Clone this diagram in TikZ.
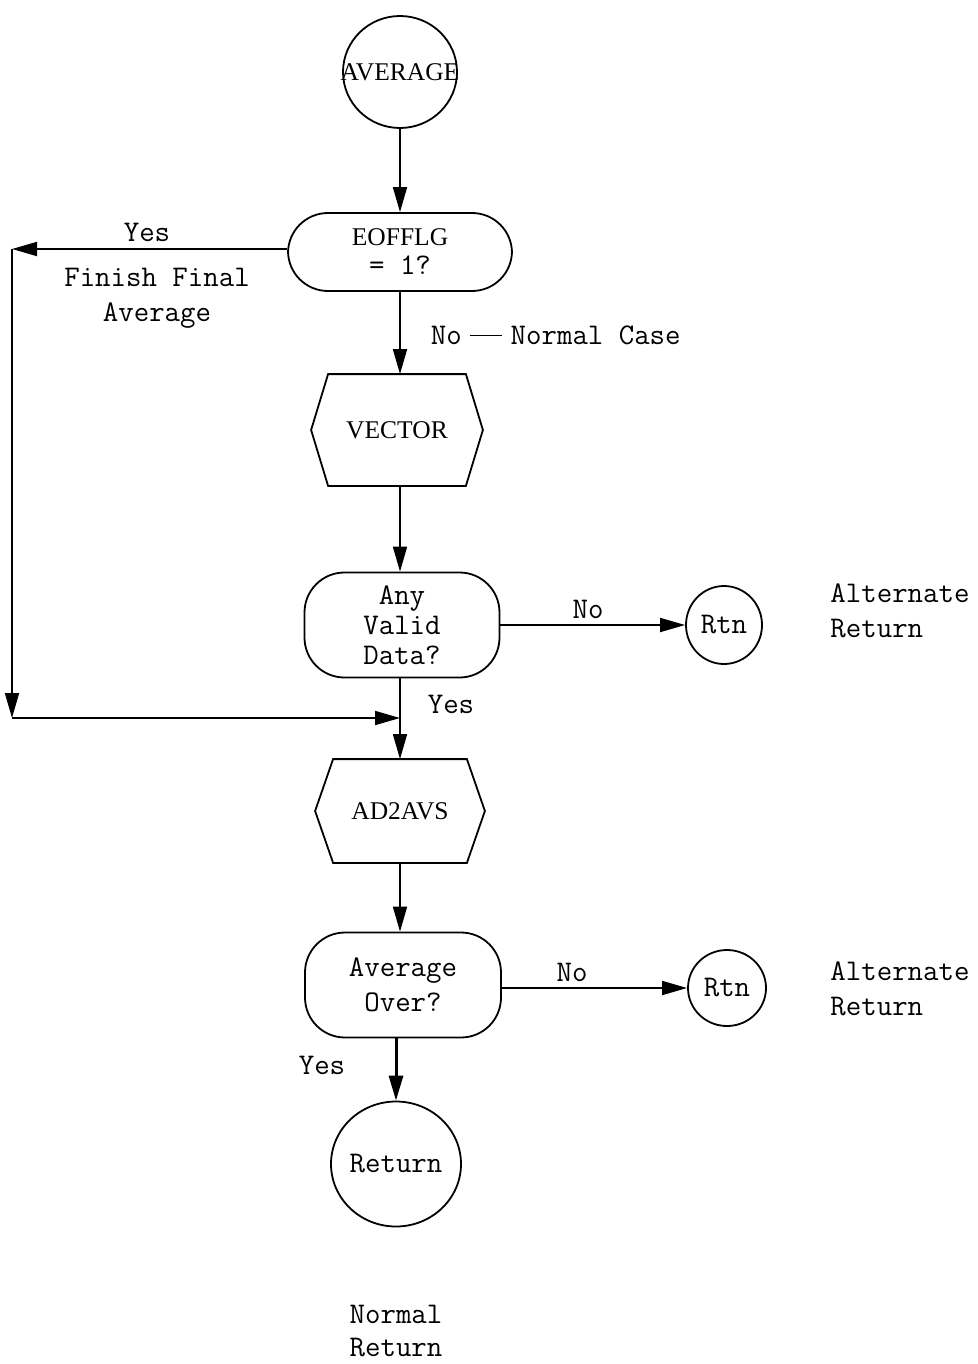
\documentclass[tikz,border=0pt]{standalone}
\usepackage{fontspec}
\newfontfamily\serifnode{Liberation Serif}
\usetikzlibrary{arrows.meta,shapes.geometric}
\begin{document}
\begin{tikzpicture}[x=1pt,y=-1pt,
  line width=1.8pt,
  arr/.style={-{Triangle[length=25pt,width=14pt]}},
  mono/.style={font=\fontsize{30}{33}\selectfont\ttfamily, align=center, inner sep=0pt},
  sernode/.style={font=\fontsize{25.5}{30}\selectfont\serifnode, align=center, inner sep=0pt},
  circ/.style={draw, ellipse, inner xsep=-40pt, inner ysep=-20pt},
  term/.style={draw, rectangle, rounded corners=40pt, inner sep=0pt, align=center},
  hexbox/.style={rectangle, inner sep=0pt},
  lbl/.style={mono}
]
\useasboundingbox (0,0) rectangle (977,1364);

% nodes
\node[sernode, circ, minimum width=114pt, minimum height=112pt] (avg) at (400,72) {AVERAGE};
\node[term, sernode, minimum width=224pt, minimum height=78pt] (eof) at (400,252) {EOFFLG\\[-1pt]{\ttfamily\fontsize{30}{30}\selectfont= 1?}};
\node[hexbox, sernode, minimum width=170pt, minimum height=110pt] (vec) at (397,430) {VECTOR};
\draw ([xshift=17pt]vec.north west) -- ([xshift=-17pt]vec.north east) -- (vec.east)
  -- ([xshift=-17pt]vec.south east) -- ([xshift=17pt]vec.south west) -- (vec.west) -- cycle;
\node[term, mono, minimum width=195pt, minimum height=105pt] (valid) at (402,625) {Any\\[-3pt]Valid\\[-3pt]Data?};
\node[mono, circ, minimum width=76pt, minimum height=78pt] (rtna) at (724,625) {Rtn};
\node[hexbox, sernode, minimum width=168pt, minimum height=102pt] (ad2) at (400,811) {AD2AVS};
\draw ([xshift=18pt]ad2.north west) -- ([xshift=-18pt]ad2.north east) -- (ad2.east)
  -- ([xshift=-18pt]ad2.south east) -- ([xshift=18pt]ad2.south west) -- (ad2.west) -- cycle;
\node[term, mono, minimum width=196pt, minimum height=105pt] (over) at (403,985) {Average\\[2pt]Over?};
\node[mono, circ, minimum width=78pt, minimum height=76pt] (rtnb) at (727,988) {Rtn};
\node[mono, circ, minimum width=130pt, minimum height=125pt] (ret) at (396,1164) {Return};

% labels
\node[lbl] (yes1) at (147,232) {Yes};
\node[lbl] (ffa) at (157,298) {Finish Final\\[2pt]Average};
\node[lbl, anchor=west] (nonc) at (430,335) {No \makebox[18pt]{\rule[8pt]{32pt}{1.6pt}} Normal Case};
\node[lbl] (no1) at (588,609) {No};
\node[lbl, align=left] (alt1) at (900,611) {Alternate\\[2pt]Return};
\node[lbl] (yes2) at (451,704) {Yes};
\node[lbl] (no2) at (572,972) {No};
\node[lbl, align=left] (alt2) at (900,989) {Alternate\\[2pt]Return};
\node[lbl] (yes3) at (322,1065) {Yes};
\node[lbl] (nret) at (396,1331) {Normal\\[0pt]Return};

% coordinates
\coordinate (c1) at (12,249);
\coordinate (c2) at (12,718);
\coordinate (j) at (400,718);

% connectors
\draw[arr] (avg.south) -- (eof.north);
\draw[arr] (eof.west |- c1) -- (c1);
\draw[arr] (c1) -- (c2);
\draw[arr] (c2) -- (j);
\draw[arr] (eof.south) -- (vec.north -| eof.south);
\draw[arr] (vec.south -| eof.south) -- (valid.north -| eof.south);
\draw[arr] (valid.east) -- (rtna.west);
\draw[arr] (valid.south -| j) -- (ad2.north -| j);
\draw[arr] (ad2.south -| j) -- (over.north -| j);
\draw[arr] (over.east |- rtnb) -- (rtnb.west);
\draw[arr, line width=3pt] (over.south -| ret.north) -- (ret.north);
\end{tikzpicture}
\end{document}
